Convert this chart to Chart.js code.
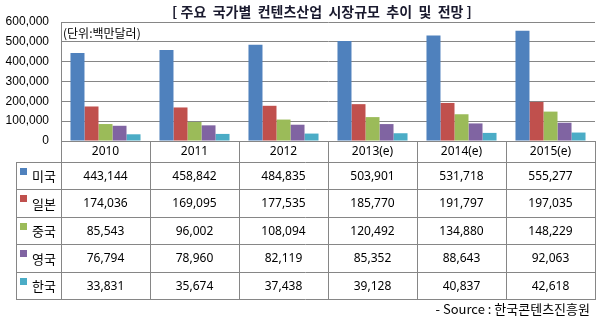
<!DOCTYPE html>
<html>
<head>
<meta charset="utf-8">
<script src="https://cdn.jsdelivr.net/npm/chart.js@4"></script>
<style>
  body { margin: 0; background: #fff; }
  canvas { display: block; }
</style>
</head>
<body>
<canvas id="market" width="598" height="322"></canvas>
<script>
const years = ['2010', '2011', '2012', '2013(e)', '2014(e)', '2015(e)'];
const countries = ['미국', '일본', '중국', '영국', '한국'];
const usa = [443144, 458842, 484835, 503901, 531718, 555277];
const japan = [174036, 169095, 177535, 185770, 191797, 197035];
const china = [85543, 96002, 108094, 120492, 134880, 148229];
const uk = [76794, 78960, 82119, 85352, 88643, 92063];
const korea = [33831, 35674, 37438, 39128, 40837, 42618];
const yTicks = [0, 100000, 200000, 300000, 400000, 500000, 600000];

const series = [usa, japan, china, uk, korea];
const colors = ['#4f81bd', '#c0504d', '#9bbb59', '#8064a2', '#4bacc6'];
const lineColor = '#868686';

// title, unit note, data table and source, drawn under/around the plot
const tablePlugin = {
    id: 'dataTable',
    afterDraw(chart) {
        const ctx = chart.ctx;
        const area = chart.chartArea;
        const colW = (area.right - area.left) / years.length;
        const headTop = area.bottom;
        const headBottom = headTop + 21;
        const rowH = 27.4;
        const tableLeft = 16;
        const rowY = k => Math.round(headBottom + k * rowH);
        const px = v => Math.round(v) + 0.5;

        ctx.save();
        ctx.strokeStyle = lineColor;
        ctx.lineWidth = 1;
        ctx.beginPath();
        // horizontal lines
        for (let k = 0; k <= countries.length; k++) {
            ctx.moveTo(tableLeft, px(rowY(k)));
            ctx.lineTo(area.right, px(rowY(k)));
        }
        // vertical lines
        const bottom = rowY(countries.length);
        ctx.moveTo(px(tableLeft), rowY(0));
        ctx.lineTo(px(tableLeft), bottom + 1);
        for (let i = 0; i <= years.length; i++) {
            const xx = px(area.left + i * colW);
            ctx.moveTo(xx, headTop);
            ctx.lineTo(xx, bottom + 1);
        }
        ctx.stroke();

        ctx.fillStyle = '#000';
        ctx.textAlign = 'center';
        ctx.textBaseline = 'middle';
        ctx.font = '12px "Noto Sans", sans-serif';
        years.forEach((y, i) => {
            ctx.fillText(y, area.left + (i + 0.5) * colW, (headTop + headBottom) / 2 + 0.5);
        });
        series.forEach((vals, k) => {
            const cy = (rowY(k) + rowY(k + 1)) / 2 + 1;
            vals.forEach((v, i) => {
                ctx.fillText(v.toLocaleString('en-US'), area.left + (i + 0.5) * colW, cy);
            });
        });

        // legend keys + country names
        ctx.textAlign = 'left';
        ctx.font = '13px "Noto Sans CJK KR", sans-serif';
        countries.forEach((c, k) => {
            ctx.fillStyle = colors[k];
            ctx.fillRect(20, rowY(k) + 6, 7, 7);
            ctx.fillStyle = '#000';
            ctx.fillText(c, 32, (rowY(k) + rowY(k + 1)) / 2 + 1);
        });

        // title
        ctx.textAlign = 'center';
        ctx.font = 'bold 14px "Noto Sans CJK KR", sans-serif';
        ctx.fillStyle = '#1a1a2e';
        ctx.fillText('[ 주요  국가별  컨텐츠산업  시장규모  추이  및  전망 ]', 322, 12);

        // unit
        ctx.textAlign = 'left';
        ctx.font = '12px "Noto Sans CJK KR", sans-serif';
        ctx.fillStyle = '#000';
        ctx.fillText('(단위:백만달러)', area.left + 2, 33);

        // source
        ctx.textAlign = 'right';
        ctx.font = '13px "Noto Sans CJK KR", sans-serif';
        ctx.fillText('- Source : 한국콘텐츠진흥원', 590, 309);
        ctx.restore();
    }
};

const ctx = document.getElementById('market').getContext('2d');
const chart = new Chart(ctx, {
    type: 'bar',
    data: {
        labels: years,
        datasets: countries.map((c, k) => ({
            label: c,
            data: series[k],
            backgroundColor: colors[k],
            borderWidth: 0,
            barPercentage: 1,
            categoryPercentage: 0.787
        }))
    },
    options: {
        responsive: false,
        animation: false,
        layout: {
            padding: { top: 22, right: 3, bottom: 181, left: 0 }
        },
        scales: {
            x: {
                display: false
            },
            y: {
                min: 0,
                max: 600000,
                afterBuildTicks: scale => {
                    scale.ticks = yTicks.map(v => ({ value: v }));
                },
                afterFit: scale => {
                    scale.width = 61;
                },
                grid: {
                    color: lineColor,
                    drawTicks: false
                },
                border: {
                    display: true,
                    color: lineColor
                },
                ticks: {
                    padding: 12,
                    color: '#000',
                    font: { family: '"Liberation Sans", Arial', size: 12 },
                    callback: v => v.toLocaleString('en-US')
                }
            }
        },
        plugins: {
            legend: { display: false },
            tooltip: { enabled: false }
        }
    },
    plugins: [tablePlugin]
});
</script>
</body>
</html>
